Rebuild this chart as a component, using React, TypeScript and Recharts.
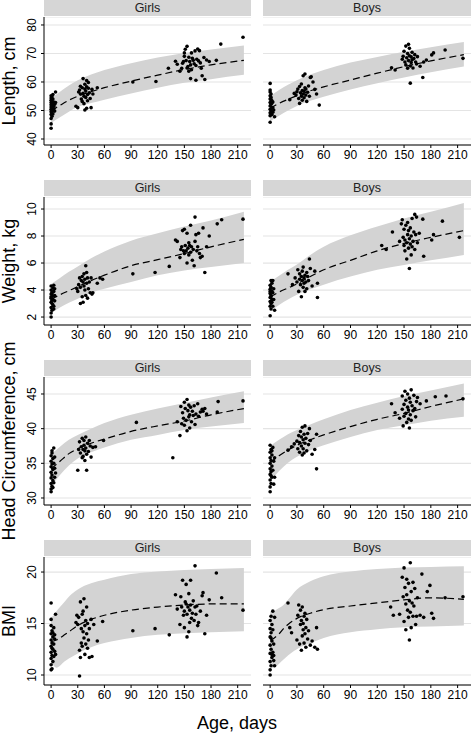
import React from 'react';
import { ComposedChart, Area, Line, Scatter, XAxis, YAxis, CartesianGrid } from 'recharts';

const FONT = '"Liberation Sans", Arial, Helvetica, sans-serif';

// ---------- shared axis values ----------
const X_TICKS = [0, 30, 60, 90, 120, 150, 180, 210];
const X_DOMAIN: [number, number] = [-8, 225];
const SEX_LABELS = ['Girls', 'Boys'];
const ROW_TITLES = ['Length, cm', 'Weight, kg', 'Head Circumference, cm', 'BMI'];
const X_TITLE = 'Age, days';

const BAND_AGES = [0, 10, 20, 30, 45, 60, 90, 120, 150, 180, 217];
const BMI_AGES = [0, 3, 6, 10, 15, 20, 30, 45, 60, 90, 120, 150, 180, 217];

// ---------- Length ----------
const lenDomain: [number, number] = [37.9, 82.8];
const lenTicks = [40, 50, 60, 70, 80];
const girlsLenHi = [54.4, 56.6, 58.8, 60.6, 62.6, 64.2, 66.6, 68.6, 70.2, 71.4, 72.8];
const girlsLenLo = [45.6, 47.6, 49.6, 51.2, 52.6, 53.8, 56.0, 58.0, 59.7, 61.0, 62.5];
const girlsLenMed = [49.9, 51.8, 53.6, 55.0, 56.6, 58.0, 60.3, 62.4, 64.4, 66.0, 67.6];
const boysLenHi = [55.0, 57.2, 59.0, 60.6, 62.6, 64.2, 66.8, 68.8, 70.6, 72.2, 74.0];
const boysLenLo = [46.2, 48.2, 50.0, 51.6, 53.4, 54.8, 57.4, 59.6, 61.6, 63.4, 65.4];
const boysLenMed = [50.8, 52.5, 53.9, 55.2, 56.9, 58.3, 60.7, 63.1, 65.4, 67.4, 69.6];
const girlsLenPts: [number, number][] = [
  [0, 43.8], [0, 45.3], [0, 47.2], [1, 48.0], [0, 48.6], [1, 49.2], [0, 49.6], [2, 50.0], [0, 50.4], [1, 50.8],
  [0, 51.2], [2, 51.6], [0, 52.0], [1, 52.4], [0, 52.8], [1, 53.2], [0, 53.6], [2, 54.0], [0, 54.4], [1, 54.8],
  [0, 55.2], [2, 55.6], [3, 53.0], [3, 51.5], [4, 52.2], [4, 49.8], [5, 56.5], [3, 50.6], [2, 48.8], [5, 52.8],
  [28, 51.5], [30, 51.0], [31, 56.5], [32, 57.2], [33, 55.8], [34, 54.0], [35, 53.2], [35, 58.0], [36, 61.2], [36, 56.0],
  [37, 55.0], [37, 52.4], [38, 57.5], [38, 59.2], [39, 54.6], [39, 56.8], [40, 60.5], [40, 58.3], [41, 53.4], [41, 55.6],
  [42, 57.8], [42, 59.8], [43, 56.2], [44, 54.2], [45, 51.0], [46, 57.4], [38, 50.2], [40, 50.8], [33, 58.5], [47, 55.8],
  [52, 58.0], [92, 60.0], [118, 60.2], [132, 64.8],
  [140, 67.3], [142, 66.2], [145, 63.8], [147, 64.8], [148, 66.6], [149, 67.2], [150, 70.2], [150, 69.0], [151, 71.5], [152, 67.5],
  [153, 72.5], [153, 64.9], [154, 65.4], [155, 63.8], [155, 68.7], [156, 67.2], [157, 61.2], [157, 66.0], [158, 64.3], [158, 70.2],
  [159, 68.3], [160, 67.6], [161, 66.4], [162, 70.9], [163, 60.6], [163, 65.8], [164, 68.0], [165, 71.6], [166, 67.4], [167, 71.0],
  [168, 66.7], [169, 64.8], [170, 62.2], [172, 68.6], [173, 60.9], [175, 67.7], [178, 67.2], [186, 67.6], [191, 73.3], [216, 75.7],
];
const boysLenPts: [number, number][] = [
  [0, 59.5], [0, 57.2], [0, 56.5], [1, 55.8], [0, 55.2], [1, 54.6], [0, 54.0], [2, 53.4], [0, 52.8], [1, 52.2],
  [0, 51.6], [2, 51.0], [0, 50.4], [1, 49.8], [0, 49.2], [2, 48.6], [0, 48.2], [0, 45.9], [3, 53.0], [3, 51.0],
  [4, 50.2], [5, 47.8], [3, 49.4], [1, 53.8], [2, 52.6],
  [22, 53.8], [27, 56.0], [29, 55.4], [30, 56.6], [31, 57.5], [32, 54.2], [33, 52.5], [33, 58.4], [34, 56.2], [35, 55.0],
  [35, 59.3], [36, 57.0], [36, 53.6], [37, 55.8], [37, 62.2], [38, 56.8], [38, 54.5], [39, 58.0], [39, 62.8], [40, 55.4],
  [40, 57.5], [41, 53.2], [42, 56.4], [43, 58.6], [44, 55.0], [45, 61.6], [46, 61.8], [48, 60.0], [50, 57.4], [52, 55.8],
  [55, 51.9], [136, 65.0], [140, 64.2],
  [148, 68.0], [149, 69.0], [150, 70.8], [151, 67.0], [152, 66.0], [152, 72.6], [153, 68.5], [154, 70.0], [154, 64.8], [155, 73.2],
  [155, 67.5], [156, 69.2], [156, 71.8], [157, 65.6], [157, 59.6], [158, 68.8], [158, 66.8], [159, 70.4], [159, 67.8], [160, 64.9],
  [161, 68.2], [162, 69.6], [163, 67.0], [164, 66.3], [165, 68.9], [168, 65.5], [171, 61.6], [172, 67.0], [175, 67.7], [181, 69.5],
  [183, 70.2], [196, 71.2], [216, 68.3],
];

// ---------- Weight ----------
const wtDomain: [number, number] = [1.41, 10.89];
const wtTicks = [2, 4, 6, 8, 10];
const girlsWtHi = [4.45, 4.9, 5.35, 5.75, 6.35, 6.85, 7.65, 8.2, 8.7, 9.15, 9.8];
const girlsWtLo = [2.3, 2.7, 3.05, 3.35, 3.8, 4.1, 4.6, 5.1, 5.45, 5.7, 6.0];
const girlsWtMed = [3.3, 3.65, 3.95, 4.25, 4.7, 5.1, 5.8, 6.25, 6.7, 7.2, 7.75];
const boysWtHi = [4.6, 5.05, 5.5, 5.9, 6.6, 7.2, 8.05, 8.7, 9.3, 9.8, 10.45];
const boysWtLo = [2.45, 2.9, 3.3, 3.65, 4.05, 4.4, 5.0, 5.5, 5.85, 6.2, 6.6];
const boysWtMed = [3.5, 3.85, 4.15, 4.45, 5.0, 5.5, 6.2, 6.9, 7.45, 7.9, 8.4];
const girlsWtPts: [number, number][] = [
  [0, 2.0], [0, 2.3], [1, 2.5], [0, 2.7], [2, 2.9], [0, 3.1], [1, 3.25], [0, 3.4], [2, 3.55], [0, 3.7],
  [1, 3.85], [0, 4.0], [2, 4.15], [0, 4.3], [3, 4.35], [3, 3.9], [4, 3.6], [4, 3.2], [3, 2.8], [1, 3.0],
  [2, 3.3], [0, 3.5], [1, 3.75], [4, 4.1], [3, 2.6],
  [29, 4.1], [30, 3.9], [31, 4.4], [32, 4.9], [33, 3.0], [33, 4.2], [34, 4.7], [35, 3.5], [35, 5.0], [36, 4.6],
  [36, 3.1], [37, 4.3], [37, 5.2], [38, 4.0], [38, 4.8], [39, 5.8], [39, 3.6], [40, 4.5], [40, 5.3], [41, 3.4],
  [41, 4.9], [42, 4.1], [43, 4.6], [44, 3.8], [45, 4.9], [46, 3.7], [47, 3.8], [52, 4.5], [55, 4.9], [58, 4.8],
  [92, 5.2], [117, 5.3], [133, 5.75],
  [140, 7.7], [142, 7.6], [145, 6.4], [146, 7.0], [147, 7.2], [148, 8.4], [149, 6.9], [150, 8.5], [150, 6.7], [151, 7.3],
  [152, 6.9], [153, 8.2], [153, 6.0], [154, 7.1], [155, 7.5], [155, 6.6], [156, 7.3], [157, 6.8], [157, 8.8], [158, 7.2],
  [159, 6.2], [160, 7.0], [161, 5.8], [162, 9.4], [162, 7.6], [163, 8.1], [164, 6.9], [165, 7.2], [166, 8.2], [167, 6.7],
  [168, 6.4], [170, 6.5], [171, 8.6], [173, 5.3], [175, 7.2], [178, 8.0], [187, 8.9], [192, 9.2], [216, 9.25],
];
const boysWtPts: [number, number][] = [
  [0, 2.1], [1, 2.6], [0, 2.8], [1, 3.0], [0, 3.15], [2, 3.3], [0, 3.45], [1, 3.6], [0, 3.75], [2, 3.9],
  [0, 4.05], [1, 4.2], [0, 4.35], [2, 4.5], [1, 4.7], [3, 4.7], [3, 3.8], [4, 3.3], [5, 2.5], [3, 2.8],
  [2, 3.1], [1, 3.5], [0, 3.9], [4, 4.1],
  [20, 5.2], [25, 4.4], [28, 4.9], [30, 4.6], [31, 5.5], [32, 3.9], [33, 4.8], [33, 5.2], [34, 4.4], [35, 5.0],
  [35, 3.5], [36, 4.7], [36, 5.4], [37, 4.2], [37, 5.7], [38, 4.5], [38, 4.9], [39, 5.1], [39, 3.9], [40, 4.6],
  [41, 5.3], [41, 4.1], [42, 5.0], [43, 4.7], [44, 6.3], [45, 5.6], [47, 4.3], [50, 5.4], [53, 4.5], [53, 3.45],
  [125, 7.3], [130, 7.0], [137, 8.3],
  [145, 7.6], [147, 8.9], [148, 9.2], [149, 7.9], [150, 7.3], [150, 8.5], [151, 6.9], [151, 7.7], [152, 8.8], [153, 6.3],
  [153, 7.5], [154, 8.1], [154, 9.0], [155, 7.1], [155, 8.4], [156, 5.6], [156, 7.8], [157, 8.6], [157, 7.4], [158, 6.6],
  [158, 8.0], [159, 7.2], [159, 9.3], [160, 7.6], [161, 8.3], [162, 9.6], [162, 7.0], [163, 8.1], [164, 9.4], [165, 7.5],
  [167, 8.2], [171, 9.25], [172, 6.5], [181, 7.7], [183, 8.1], [193, 9.1], [212, 7.9],
];

// ---------- Head circumference ----------
const hcDomain: [number, number] = [28.99, 47.45];
const hcTicks = [30, 35, 40, 45];
const girlsHcHi = [36.3, 37.4, 38.4, 39.1, 40.0, 40.8, 42.0, 42.9, 43.7, 44.5, 45.4];
const girlsHcLo = [31.7, 33.3, 34.7, 35.7, 36.6, 37.3, 38.4, 39.1, 39.8, 40.3, 40.8];
const girlsHcMed = [34.2, 35.3, 36.4, 37.1, 37.9, 38.5, 39.6, 40.4, 41.1, 42.0, 42.9];
const boysHcHi = [37.5, 38.4, 39.2, 39.8, 40.6, 41.35, 42.7, 43.75, 44.7, 45.5, 46.5];
const boysHcLo = [32.4, 33.9, 35.1, 35.95, 36.9, 37.6, 38.8, 39.8, 40.5, 41.15, 41.7];
const boysHcMed = [35.1, 36.1, 36.9, 37.6, 38.4, 39.1, 40.3, 41.35, 42.2, 43.2, 44.3];
const girlsHcPts: [number, number][] = [
  [0, 30.9], [0, 31.3], [1, 31.7], [0, 32.1], [2, 32.5], [0, 32.9], [1, 33.3], [0, 33.7], [2, 34.1], [0, 34.5],
  [1, 34.9], [0, 35.3], [2, 35.7], [0, 36.1], [1, 36.5], [3, 37.2], [3, 35.0], [4, 34.3], [4, 33.0], [3, 32.2],
  [5, 33.6], [4, 35.9], [2, 31.5], [1, 36.8],
  [30, 34.0], [31, 37.0], [32, 38.1], [33, 36.5], [34, 37.4], [35, 38.6], [35, 35.8], [36, 37.0], [36, 36.0], [37, 38.3],
  [37, 37.6], [38, 35.4], [38, 36.8], [39, 38.8], [39, 37.2], [40, 34.0], [40, 36.3], [41, 37.9], [42, 36.7], [43, 38.3],
  [44, 37.5], [45, 35.9], [47, 37.3], [50, 37.4], [59, 38.3], [96, 40.9], [137, 35.8],
  [142, 41.0], [145, 39.0], [146, 43.2], [147, 40.7], [148, 42.3], [149, 41.5], [150, 43.8], [150, 40.5], [151, 42.9], [152, 41.2],
  [153, 44.2], [153, 39.7], [154, 42.6], [155, 41.7], [155, 43.4], [156, 40.1], [156, 42.0], [157, 43.1], [158, 41.0], [159, 42.5],
  [160, 41.9], [161, 43.3], [162, 40.6], [163, 42.1], [165, 43.6], [166, 41.8], [168, 42.4], [170, 42.8], [171, 42.5], [173, 42.9],
  [175, 42.1], [187, 42.4], [188, 43.9], [216, 44.0],
];
const boysHcPts: [number, number][] = [
  [0, 30.9], [0, 31.6], [1, 32.1], [0, 32.6], [2, 33.0], [0, 33.4], [1, 33.8], [0, 34.2], [2, 34.6], [0, 35.0],
  [1, 35.4], [0, 35.8], [2, 36.2], [0, 36.6], [1, 37.0], [0, 37.6], [3, 37.3], [4, 35.3], [5, 33.0], [4, 32.0],
  [3, 34.0], [2, 36.8], [1, 33.2], [5, 35.8],
  [20, 36.9], [24, 37.4], [27, 37.8], [30, 38.2], [31, 37.1], [32, 39.0], [33, 38.0], [33, 36.6], [34, 39.6], [35, 37.5],
  [35, 38.8], [36, 36.2], [36, 40.2], [37, 38.4], [37, 37.1], [38, 39.2], [38, 36.5], [39, 40.4], [39, 37.9], [40, 38.6],
  [41, 36.8], [42, 39.3], [43, 37.7], [44, 40.0], [45, 38.3], [47, 36.3], [50, 37.0], [52, 39.2], [52, 34.2],
  [136, 43.6], [140, 42.3], [145, 41.5], [148, 44.7], [148, 42.8], [149, 40.4], [150, 43.5], [150, 41.8], [151, 45.4], [152, 42.2],
  [152, 44.1], [153, 40.9], [154, 43.1], [154, 45.0], [155, 41.4], [155, 42.7], [156, 44.4], [156, 40.1], [157, 43.8], [157, 42.0],
  [158, 45.6], [158, 41.2], [159, 43.3], [160, 42.6], [161, 44.8], [162, 42.9], [163, 41.7], [164, 43.9], [165, 44.5], [168, 43.6],
  [175, 44.0], [185, 44.6], [197, 44.7], [216, 44.3],
];

// ---------- BMI ----------
const bmiDomain: [number, number] = [9.03, 21.46];
const bmiTicks = [10, 15, 20];
const girlsBmiHi = [15.6, 15.8, 16.2, 16.6, 17.1, 17.6, 18.3, 18.9, 19.25, 19.8, 20.05, 20.2, 20.3, 20.4];
const girlsBmiLo = [11.2, 10.9, 10.7, 10.9, 11.3, 11.6, 12.1, 12.7, 13.1, 13.6, 13.9, 14.05, 14.15, 14.25];
const girlsBmiMed = [13.25, 13.3, 13.4, 13.6, 13.9, 14.2, 14.8, 15.4, 15.8, 16.3, 16.6, 16.8, 16.9, 16.9];
const boysBmiHi = [16.2, 16.2, 16.3, 16.5, 16.8, 17.3, 18.3, 19.1, 19.6, 20.05, 20.3, 20.45, 20.5, 20.55];
const boysBmiLo = [10.8, 10.7, 10.8, 11.1, 11.5, 11.9, 12.5, 13.1, 13.6, 14.15, 14.45, 14.65, 14.7, 14.8];
const boysBmiMed = [13.4, 13.5, 13.7, 14.0, 14.5, 14.9, 15.5, 16.0, 16.35, 16.7, 17.0, 17.3, 17.5, 17.35];
const girlsBmiPts: [number, number][] = [
  [0, 17.0], [0, 15.4], [0, 14.8], [1, 14.3], [0, 14.0], [2, 13.7], [0, 13.4], [1, 13.1], [0, 12.8], [2, 12.5],
  [0, 12.2], [1, 11.9], [0, 11.6], [2, 11.3], [0, 11.0], [1, 10.6], [0, 10.5], [3, 14.6], [4, 13.9], [3, 13.0],
  [4, 12.3], [5, 15.9], [3, 11.8], [5, 12.0], [2, 14.1], [4, 13.5], [1, 12.6],
  [28, 15.1], [29, 15.8], [30, 14.9], [31, 15.6], [32, 9.9], [32, 12.4], [33, 11.7], [33, 17.1], [34, 14.5], [34, 13.1],
  [35, 15.9], [35, 12.8], [36, 14.2], [36, 16.2], [37, 13.6], [37, 17.4], [38, 14.8], [38, 12.0], [39, 15.3], [39, 13.0],
  [40, 14.0], [40, 16.6], [41, 12.6], [41, 15.0], [42, 13.4], [43, 14.5], [43, 11.7], [45, 15.4], [46, 11.8], [48, 14.9],
  [52, 13.3], [58, 15.2], [92, 14.3], [117, 14.5], [133, 13.9],
  [140, 17.8], [142, 16.4], [145, 14.9], [146, 17.6], [147, 16.6], [148, 19.2], [149, 15.8], [150, 16.2], [150, 14.6], [151, 17.1],
  [152, 16.9], [152, 18.8], [153, 13.7], [153, 15.9], [154, 16.6], [155, 14.2], [155, 17.9], [156, 16.3], [156, 15.1], [157, 16.8],
  [157, 19.2], [158, 15.5], [159, 16.0], [160, 17.2], [161, 15.3], [162, 20.6], [162, 16.6], [163, 15.9], [164, 16.7], [165, 14.8],
  [166, 15.1], [168, 16.2], [170, 17.7], [171, 18.0], [173, 14.0], [175, 15.8], [178, 17.3], [186, 19.9], [192, 17.5], [216, 16.3],
];
const boysBmiPts: [number, number][] = [
  [0, 10.0], [0, 10.5], [1, 10.9], [0, 11.3], [2, 11.7], [0, 12.1], [1, 12.5], [0, 12.9], [2, 13.3], [0, 13.7],
  [1, 14.1], [0, 14.5], [2, 14.9], [0, 15.3], [1, 15.7], [3, 16.2], [3, 12.2], [4, 11.4], [5, 10.9], [4, 13.0],
  [3, 14.4], [2, 12.0], [1, 13.6], [5, 15.6], [4, 11.9],
  [20, 17.0], [22, 14.6], [24, 14.1], [30, 13.4], [31, 15.8], [32, 16.8], [33, 13.0], [34, 14.9], [34, 16.3], [35, 12.4],
  [35, 15.3], [36, 13.8], [36, 16.6], [37, 14.4], [37, 15.0], [38, 13.1], [38, 15.7], [39, 14.0], [39, 16.0], [40, 12.7],
  [40, 14.6], [41, 15.4], [42, 13.5], [43, 14.3], [45, 12.9], [47, 13.3], [50, 12.7], [52, 14.6], [53, 12.5],
  [135, 16.6], [138, 15.8], [145, 15.9], [148, 19.5], [149, 17.6], [150, 20.4], [150, 15.2], [151, 18.5], [152, 16.9], [152, 14.4],
  [153, 19.3], [153, 17.8], [154, 16.3], [155, 18.9], [155, 15.6], [156, 17.2], [156, 13.4], [157, 20.9], [157, 16.1], [158, 18.1],
  [158, 14.6], [159, 17.0], [160, 19.0], [160, 15.7], [161, 16.7], [162, 18.4], [163, 14.9], [164, 15.7], [165, 17.5], [168, 15.8],
  [170, 19.8], [172, 15.6], [176, 18.1], [179, 18.7], [181, 16.0], [183, 15.5], [196, 17.5], [216, 17.6],
];

// ---------- table builders ----------
type Row = { age: number; lo: number; hi: number; med: number };
const makeBand = (ages: number[], lo: number[], hi: number[], med: number[]): Row[] =>
  ages.map((age, i) => ({ age, lo: lo[i], hi: hi[i], med: med[i] }));
const makePts = (pts: [number, number][]) => pts.map(([age, v]) => ({ age, v }));

const ROWS = [
  {
    domain: lenDomain, ticks: lenTicks,
    panels: [
      { band: makeBand(BAND_AGES, girlsLenLo, girlsLenHi, girlsLenMed), pts: makePts(girlsLenPts) },
      { band: makeBand(BAND_AGES, boysLenLo, boysLenHi, boysLenMed), pts: makePts(boysLenPts) },
    ],
  },
  {
    domain: wtDomain, ticks: wtTicks,
    panels: [
      { band: makeBand(BAND_AGES, girlsWtLo, girlsWtHi, girlsWtMed), pts: makePts(girlsWtPts) },
      { band: makeBand(BAND_AGES, boysWtLo, boysWtHi, boysWtMed), pts: makePts(boysWtPts) },
    ],
  },
  {
    domain: hcDomain, ticks: hcTicks,
    panels: [
      { band: makeBand(BAND_AGES, girlsHcLo, girlsHcHi, girlsHcMed), pts: makePts(girlsHcPts) },
      { band: makeBand(BAND_AGES, boysHcLo, boysHcHi, boysHcMed), pts: makePts(boysHcPts) },
    ],
  },
  {
    domain: bmiDomain, ticks: bmiTicks,
    panels: [
      { band: makeBand(BMI_AGES, girlsBmiLo, girlsBmiHi, girlsBmiMed), pts: makePts(girlsBmiPts) },
      { band: makeBand(BMI_AGES, boysBmiLo, boysBmiHi, boysBmiMed), pts: makePts(boysBmiPts) },
    ],
  },
];

// ---------- layout ----------
const W = 471;
const H = 733;
const ROW_STEP = 180;
const HEADER_H = 16;
const PLOT_TOP = 17;
const PLOT_H = 128;
const XAXIS_H = 20;
const COL_LEFT = [20, 263];
const COL_W = [231, 208];
const Y_AXIS_W = 24;
const PLOT_X = [44, 263];
const PLOT_W = [207, 208];

const RotTick = (props: any) => {
  const { x, y, payload } = props;
  const bx = x - 3;
  return (
    <text
      x={bx}
      y={y}
      transform={`rotate(-90, ${bx}, ${y})`}
      textAnchor="middle"
      fontSize={12}
      fontFamily={FONT}
      fill="#000"
    >
      {payload.value}
    </text>
  );
};

const Dot = (props: any) => <circle cx={props.cx} cy={props.cy} r={1.8} fill="#000" />;

function Panel({ row, col }: { row: number; col: number }) {
  const cfg = ROWS[row];
  const p = cfg.panels[col];
  const showY = col === 0;
  return (
    <div style={{ position: 'absolute', left: COL_LEFT[col], top: row * ROW_STEP + PLOT_TOP }}>
      <ComposedChart
        width={COL_W[col]}
        height={PLOT_H + XAXIS_H}
        data={p.band}
        margin={{ top: 0, right: 0, bottom: 0, left: 0 }}
      >
        <CartesianGrid horizontal vertical={false} stroke="#e4e4e4" strokeWidth={1.2} />
        <XAxis
          type="number"
          dataKey="age"
          domain={X_DOMAIN}
          ticks={X_TICKS}
          interval={0}
          allowDataOverflow
          height={XAXIS_H}
          tickSize={3}
          tickMargin={2}
          stroke="#000"
          tick={{ fontSize: 12, fill: '#000', fontFamily: FONT }}
        />
        {showY ? (
          <YAxis
            type="number"
            domain={cfg.domain}
            ticks={cfg.ticks}
            interval={0}
            allowDataOverflow
            width={Y_AXIS_W}
            tickSize={3}
            tickMargin={2}
            stroke="#000"
            tick={RotTick}
          />
        ) : (
          <YAxis type="number" hide domain={cfg.domain} ticks={cfg.ticks} interval={0} allowDataOverflow />
        )}
        <Area
          type="monotone"
          dataKey={(d: Row) => [d.lo, d.hi]}
          fill="#d3d3d3"
          fillOpacity={1}
          stroke="none"
          isAnimationActive={false}
        />
        <Line
          type="monotone"
          dataKey="med"
          stroke="#000"
          strokeWidth={1.2}
          strokeDasharray="7 4"
          dot={false}
          isAnimationActive={false}
        />
        <Scatter data={p.pts} dataKey="v" shape={Dot} isAnimationActive={false} />
      </ComposedChart>
    </div>
  );
}

export default function App() {
  return (
    <div style={{ position: 'absolute', left: 0, top: 0, width: W, height: H, background: '#fff', fontFamily: FONT }}>
      <svg width={W} height={H} style={{ position: 'absolute', left: 0, top: 0 }}>
        {ROWS.map((_, r) => (
          <g key={r}>
            {SEX_LABELS.map((lab, c) => (
              <g key={c}>
                <rect x={PLOT_X[c]} y={r * ROW_STEP} width={PLOT_W[c]} height={HEADER_H} fill="#d6d6d6" />
                <text
                  x={PLOT_X[c] + PLOT_W[c] / 2}
                  y={r * ROW_STEP + 12}
                  textAnchor="middle"
                  fontSize={12.5}
                  fontFamily={FONT}
                  fill="#222"
                >
                  {lab}
                </text>
              </g>
            ))}
            <text
              x={14.5}
              y={r * ROW_STEP + PLOT_TOP + PLOT_H / 2}
              transform={`rotate(-90, 14.5, ${r * ROW_STEP + PLOT_TOP + PLOT_H / 2})`}
              textAnchor="middle"
              fontSize={18}
              fontFamily={FONT}
              fill="#000"
            >
              {ROW_TITLES[r]}
            </text>
          </g>
        ))}
        <text x={237} y={729} textAnchor="middle" fontSize={18} fontFamily={FONT} fill="#000">
          {X_TITLE}
        </text>
      </svg>
      {ROWS.map((_, r) =>
        [0, 1].map((c) => <Panel key={`${r}-${c}`} row={r} col={c} />)
      )}
    </div>
  );
}
